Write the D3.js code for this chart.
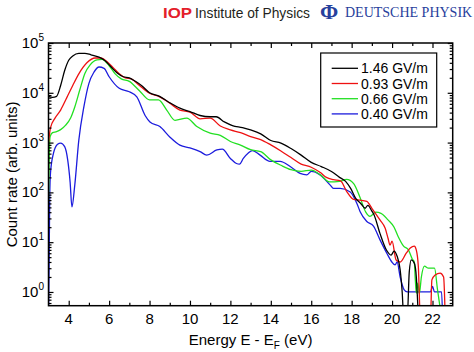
<!DOCTYPE html>
<html>
<head>
<meta charset="utf-8">
<script src="https://cdn.jsdelivr.net/npm/d3@7"></script>
<style>
  body { margin: 0; background: #fff; }
  svg { display: block; font-family: "Liberation Sans", Arial, sans-serif; }
</style>
</head>
<body>
<script>
// field strengths (legend)
var seriesNames = ["1.46 GV/m", "0.93 GV/m", "0.66 GV/m", "0.40 GV/m"];
var seriesColors = ["#000000", "#ee1111", "#22e022", "#1c1cdd"];

// 1.46 GV/m
var energyBlack = [3.0, 3.2, 3.4, 3.6, 3.8, 4.0, 4.2, 4.5, 4.8, 5.1, 5.5, 5.8, 6.1, 6.4, 6.7, 7.0, 7.3, 7.6, 8.0, 8.5, 9.0, 9.5, 10.0, 10.5, 11.0, 11.3, 11.7, 12.1, 12.6, 13.0, 13.5, 14.0, 14.5, 15.0, 15.5, 16.0, 16.5, 17.0, 17.4, 17.7, 17.95, 18.2, 18.45, 18.67, 18.8, 19.0, 19.1, 19.4, 19.7, 19.95, 20.1, 20.25, 20.4, 20.5, 20.58, 20.75, 20.85, 20.95, 21.1, 21.2, 21.3];
var countBlack = [8500, 8100, 8500, 14000, 28000, 45000, 55000, 62000, 62000, 58000, 52000, 44000, 33000, 25000, 21000, 20000, 17000, 14000, 10000, 8500, 6300, 4900, 4200, 3500, 3300, 3300, 2600, 2200, 2000, 1800, 1500, 1100, 980, 760, 560, 400, 330, 263, 200, 166, 120, 76, 60, 48, 55, 42, 36, 15, 7.2, 5.5, 6.6, 5.2, 2.8, 1.0, 0.3, 0.3, 2.5, 4.4, 3.8, 2.0, 0.3];

// 0.93 GV/m
var energyRed = [3.0, 3.1, 3.3, 3.6, 3.9, 4.2, 4.5, 4.9, 5.3, 5.6, 5.9, 6.2, 6.5, 6.8, 7.1, 7.5, 8.0, 8.5, 9.0, 9.5, 10.0, 10.5, 11.0, 11.5, 12.0, 12.5, 13.0, 13.5, 14.0, 14.5, 15.0, 15.5, 16.0, 16.45, 16.75, 17.1, 17.45, 17.75, 18.1, 18.4, 18.75, 19.0, 19.4, 19.66, 19.8, 19.9, 20.0, 20.2, 20.4, 20.7, 20.9, 21.1, 21.2, 21.3, 21.4, 21.9, 21.97, 22.13, 22.38, 22.55, 22.63];
var countRed = [1000, 2000, 3000, 4500, 7900, 14000, 24000, 40000, 50000, 50000, 42000, 32000, 24000, 20000, 19000, 14000, 9800, 8300, 6200, 4500, 4100, 3000, 3100, 2150, 1800, 1580, 1320, 1150, 900, 680, 500, 370, 320, 250, 200, 180, 170, 105, 72, 70, 66, 48, 28, 19, 12, 8.7, 10.5, 4.4, 4.0, 6.0, 7.6, 8.3, 6.9, 3.2, 0.3, 0.3, 1.75, 2.2, 2.4, 2.0, 0.3];

// 0.66 GV/m
var energyGreen = [3.0, 3.04, 3.08, 3.2, 3.4, 3.6, 3.85, 4.1, 4.3, 4.55, 4.8, 5.05, 5.4, 5.65, 6.0, 6.3, 6.6, 7.0, 7.5, 8.0, 8.44, 8.85, 9.26, 9.84, 10.34, 11.0, 11.5, 12.0, 12.5, 13.0, 13.5, 14.0, 14.5, 15.0, 15.5, 16.0, 16.45, 16.9, 17.4, 17.75, 18.1, 18.4, 18.7, 18.9, 19.2, 19.45, 19.8, 20.1, 20.3, 20.57, 20.8, 21.0, 21.1, 21.15, 21.2, 21.27, 21.35, 21.45, 21.6, 21.8, 22.1, 22.25, 22.45];
var countGreen = [63, 630, 1320, 1580, 1660, 1820, 2240, 3160, 5200, 11500, 24500, 36000, 46000, 47000, 35000, 24000, 19000, 17000, 11000, 7200, 7200, 4500, 2800, 3100, 2100, 1550, 1400, 1050, 890, 720, 660, 450, 350, 285, 265, 280, 225, 162, 166, 182, 150, 82, 40, 33, 40, 38, 28, 20, 13, 8.3, 7.1, 4.6, 4.0, 1.75, 0.95, 1.5, 0.93, 2.0, 3.3, 3.0, 3.0, 1.1, 0.3];

// 0.40 GV/m
var energyBlue = [3.0, 3.03, 3.06, 3.1, 3.25, 3.45, 3.6, 3.8, 3.95, 4.07, 4.16, 4.3, 4.5, 4.75, 5.0, 5.25, 5.5, 5.75, 6.0, 6.5, 7.0, 7.37, 7.78, 8.02, 8.51, 9.0, 9.5, 10.0, 10.5, 10.83, 11.33, 11.6, 12.0, 12.3, 12.45, 12.64, 13.1, 13.47, 13.96, 14.46, 14.96, 15.45, 15.78, 16.0, 16.44, 16.94, 17.1, 17.43, 17.93, 18.26, 18.42, 18.75, 19.08, 19.41, 19.74, 19.99, 20.15, 20.25, 20.4, 20.6, 20.75, 21.0, 21.5, 21.9, 22.0, 22.1, 22.45, 22.5];
var countBlue = [0.3, 3.2, 80, 250, 620, 930, 980, 830, 450, 160, 51, 140, 1120, 5200, 15500, 26000, 33000, 31000, 21000, 12300, 10500, 8300, 3500, 2600, 2100, 1300, 890, 780, 660, 560, 710, 740, 480, 380, 370, 480, 690, 560, 420, 420, 330, 240, 225, 265, 225, 140, 120, 120, 102, 60, 41, 26, 21, 11, 6, 4, 3.5, 4, 2, 1.1, 1.0, 1.0, 1.0, 1.0, 1.3, 1.0, 1.0, 0.3];

var xMajor = [4, 6, 8, 10, 12, 14, 16, 18, 20, 22];
var xMinor = [5, 7, 9, 11, 13, 15, 17, 19, 21];
var yMajor = [1, 10, 100, 1000, 10000, 100000];
var yExponents = ["0", "1", "2", "3", "4", "5"];

function drawChart() {
    var width = 474, height = 352;
    var mLeft = 48.5, mRight = 452.7, mTop = 43, mBottom = 305.7;

    var svg = d3.select("body").append("svg")
        .attr("width", width).attr("height", height);

    var x = d3.scaleLinear().domain([3, 23]).range([mLeft, mRight]);
    var y = d3.scaleLog().domain([0.53, 1e5]).range([mBottom, mTop]);

    // publisher header
    var head = svg.append("g");
    head.append("text").attr("x", 163).attr("y", 17.5)
        .attr("font-size", 15).attr("font-weight", "bold").attr("fill", "#e4202a")
        .attr("textLength", 29).attr("lengthAdjust", "spacingAndGlyphs")
        .text("IOP");
    head.append("text").attr("x", 195).attr("y", 17.5)
        .attr("font-size", 14).attr("fill", "#231f20")
        .attr("textLength", 115).attr("lengthAdjust", "spacingAndGlyphs")
        .text("Institute of Physics");
    head.append("text").attr("x", 320).attr("y", 19)
        .attr("font-family", "Liberation Serif, serif").attr("font-size", 22)
        .attr("font-weight", "bold").attr("fill", "#27409c")
        .text("\u03A6");
    head.append("text").attr("x", 345).attr("y", 17)
        .attr("font-family", "Liberation Serif, serif").attr("font-size", 14)
        .attr("fill", "#27409c")
        .text("DEUTSCHE PHYSIK");

    // clip
    svg.append("clipPath").attr("id", "plot")
        .append("rect").attr("x", mLeft).attr("y", mTop)
        .attr("width", mRight - mLeft).attr("height", mBottom - mTop);

    var line = d3.line()
        .x(function(d) { return x(d[0]); })
        .y(function(d) { return y(d[1]); })
        .curve(d3.curveMonotoneX);

    var series = [
        d3.zip(energyBlack, countBlack),
        d3.zip(energyRed, countRed),
        d3.zip(energyGreen, countGreen),
        d3.zip(energyBlue, countBlue)
    ];

    // draw blue first so black sits on top
    var order = [3, 2, 1, 0];
    svg.append("g").attr("clip-path", "url(#plot)")
        .selectAll("path").data(order).enter()
        .append("path")
        .attr("d", function(i) { return line(series[i]); })
        .attr("fill", "none")
        .attr("stroke", function(i) { return seriesColors[i]; })
        .attr("stroke-width", 1.3)
        .attr("stroke-linejoin", "round");

    // ticks (inward, all four sides)
    var yMinor = y.ticks(30).filter(function(v) { return v >= 1 && yMajor.indexOf(v) < 0; });
    yMinor = [0.6, 0.7, 0.8, 0.9].concat(yMinor);

    function ticks(axis, scale, vals, size, tx, ty) {
        var g = svg.append("g")
            .attr("transform", "translate(" + tx + "," + ty + ")")
            .call(axis(scale).tickValues(vals).tickSize(size).tickFormat(""));
        g.select(".domain").remove();
        g.selectAll("line").attr("stroke", "#000").attr("stroke-width", 1.2);
    }
    ticks(d3.axisBottom, x, xMajor, -5, 0, mBottom);
    ticks(d3.axisBottom, x, xMinor, -3, 0, mBottom);
    ticks(d3.axisTop, x, xMajor, -5, 0, mTop);
    ticks(d3.axisTop, x, xMinor, -3, 0, mTop);
    ticks(d3.axisLeft, y, yMajor, -5, mLeft, 0);
    ticks(d3.axisLeft, y, yMinor, -3, mLeft, 0);
    ticks(d3.axisRight, y, yMajor, -5, mRight, 0);
    ticks(d3.axisRight, y, yMinor, -3, mRight, 0);

    svg.append("rect")
        .attr("x", mLeft).attr("y", mTop)
        .attr("width", mRight - mLeft).attr("height", mBottom - mTop)
        .attr("fill", "none").attr("stroke", "#000").attr("stroke-width", 1.5);

    // tick labels
    svg.append("g").selectAll("text").data(xMajor).enter()
        .append("text")
        .attr("x", function(d) { return x(d); })
        .attr("y", 324)
        .attr("text-anchor", "middle")
        .attr("font-size", 15)
        .text(function(d) { return d; });

    var ylab = svg.append("g").selectAll("text").data(yMajor).enter()
        .append("text")
        .attr("x", 44)
        .attr("y", function(d) { return y(d) + 5; })
        .attr("text-anchor", "end")
        .attr("font-size", 15);
    ylab.append("tspan").text("10");
    ylab.append("tspan").attr("dy", -7).attr("font-size", 10)
        .text(function(d, i) { return yExponents[i]; });

    // axis titles
    svg.append("text")
        .attr("transform", "translate(17," + ((mTop + mBottom) / 2) + ") rotate(-90)")
        .attr("text-anchor", "middle")
        .attr("font-size", 15)
        .text("Count rate (arb. units)");

    var xt = svg.append("text")
        .attr("x", (mLeft + mRight) / 2).attr("y", 345)
        .attr("text-anchor", "middle")
        .attr("font-size", 15);
    xt.append("tspan").text("Energy E - E");
    xt.append("tspan").attr("dy", 4).attr("font-size", 10).text("F");
    xt.append("tspan").attr("dy", -4).text(" (eV)");

    // legend
    var legend = svg.append("g");
    legend.append("rect")
        .attr("x", 320.7).attr("y", 53).attr("width", 116).attr("height", 74)
        .attr("fill", "#fff").attr("stroke", "#000").attr("stroke-width", 1.2);
    var item = legend.selectAll("g.item").data(seriesNames).enter()
        .append("g").attr("class", "item")
        .attr("transform", function(d, i) { return "translate(0," + (68.3 + i * 15.2) + ")"; });
    item.append("line")
        .attr("x1", 331.7).attr("x2", 358)
        .attr("stroke", function(d, i) { return seriesColors[i]; })
        .attr("stroke-width", 1.3);
    item.append("text")
        .attr("x", 361).attr("y", 5)
        .attr("font-size", 14)
        .text(function(d) { return d; });
}

drawChart();
</script>
</body>
</html>
